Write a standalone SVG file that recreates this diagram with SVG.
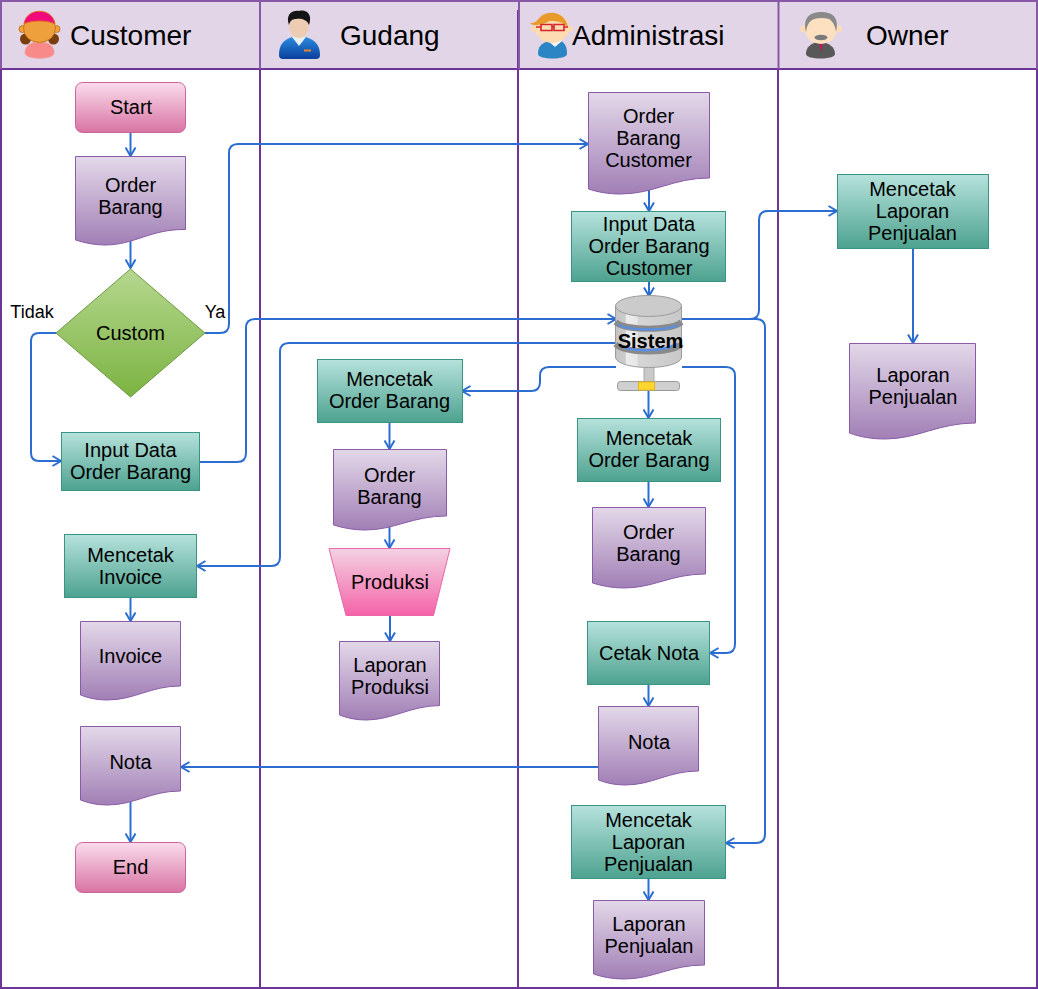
<svg xmlns="http://www.w3.org/2000/svg" width="1038" height="989" viewBox="0 0 1038 989">
<defs>
<linearGradient id="gT" x1="0" y1="0" x2="0" y2="1"><stop offset="0" stop-color="#b6e2dc"/><stop offset="1" stop-color="#4da28f"/></linearGradient>
<linearGradient id="gD" x1="0" y1="0" x2="0" y2="1"><stop offset="0" stop-color="#e3d8e9"/><stop offset="1" stop-color="#a17fb5"/></linearGradient>
<linearGradient id="gP" x1="0" y1="0" x2="0" y2="1"><stop offset="0" stop-color="#fadcec"/><stop offset="1" stop-color="#d873a3"/></linearGradient>
<linearGradient id="gM" x1="0" y1="0" x2="0" y2="1"><stop offset="0" stop-color="#f3d2e2"/><stop offset="1" stop-color="#f563a8"/></linearGradient>
<linearGradient id="gG" x1="0" y1="0" x2="0" y2="1"><stop offset="0" stop-color="#b5d78f"/><stop offset="1" stop-color="#7cb342"/></linearGradient>
<linearGradient id="gC" x1="0" y1="0" x2="1" y2="0"><stop offset="0" stop-color="#c4c4c4"/><stop offset="0.15" stop-color="#cccccc"/><stop offset="0.16" stop-color="#eeeeee"/><stop offset="0.33" stop-color="#e6e6e6"/><stop offset="0.34" stop-color="#d6d6d6"/><stop offset="1" stop-color="#c8c8c8"/></linearGradient>
<linearGradient id="gB" x1="0" y1="0" x2="0" y2="1"><stop offset="0" stop-color="#2a8be0"/><stop offset="1" stop-color="#0a3f9c"/></linearGradient>
<marker id="arr" markerWidth="12" markerHeight="12" refX="9.500" refY="6" orient="auto" markerUnits="userSpaceOnUse"><path d="M1 1 L9.500 6 L1 11" fill="none" stroke="#2b6dd0" stroke-width="2"/></marker>
<style>
.t{font-family:"Liberation Sans",Arial,sans-serif;font-size:20px;fill:#000;text-anchor:middle}
.h{font-family:"Liberation Sans",Arial,sans-serif;font-size:28px;fill:#000}
.teal{fill:url(#gT);stroke:#3a9484;stroke-width:1}
.doc{fill:url(#gD);stroke:#8a5ca8;stroke-width:1}
.pink{fill:url(#gP);stroke:#c9649a;stroke-width:1}
.lane{fill:none;stroke:#6f3497;stroke-width:2}
.laneh{fill:none;stroke:#8658a6;stroke-width:2}
.c{fill:none;stroke:#2b6dd0;stroke-width:2}
.a{marker-end:url(#arr)}
</style>
</defs>
<rect width="1038" height="989" fill="#fff"/>
<g id="lanes">
<rect x="1" y="1" width="1036" height="68" fill="#e1d5e7"/>
<path class="lane" d="M1 69V988H1037V69M1 69H1037M260 69V988M518 10V988M778 69V988"/>
<path class="laneh" d="M1 69V1H1037V69M260 1V69M519 1V69M778.500 1V69"/>
</g>
<g id="icons">
<g id="icon-customer">
<path d="M25 53C25 46 30 42 39.500 42C49 42 54 46 54 53C54 60 25 60 25 53Z" fill="#f98a8a" stroke="#f4a0a0"/>
<circle cx="25.500" cy="39" r="5.500" fill="#7a3e0c"/><circle cx="53.500" cy="39" r="5.500" fill="#7a3e0c"/>
<circle cx="22.500" cy="29" r="3.500" fill="#efa23f" stroke="#c9741a"/><circle cx="56.500" cy="29" r="3.500" fill="#efa23f" stroke="#c9741a"/>
<ellipse cx="39.500" cy="28" rx="16" ry="14.500" fill="#eea03c" stroke="#c9781d"/>
<path d="M24 24C26 7 53 7 55 24C48 20 31 20 24 24Z" fill="#f0087c" stroke="#e07020"/>
</g>
<g id="icon-gudang">
<path d="M279 55C279 44 284 40 292 37L306 37C314 40 320 44 320 55Q320 59 316 59H283Q279 59 279 55Z" fill="url(#gB)"/>
<path d="M292 37L299 46L306 37Z" fill="#e8f0f0"/>
<ellipse cx="299" cy="26" rx="10" ry="12" fill="#eccdb4"/>
<path d="M289 25C285 14 293 10 299 11C306 9 313 14 309 25C307 19 300 18 296 19C292 19 290 21 289 25Z" fill="#141414"/>
<rect x="304" y="49.500" width="7" height="2" fill="#e8842a"/>
</g>
<g id="icon-admin">
<path d="M538 54C538 47 541 43 549 41L561 41C565 43 567 47 567 54C567 60 538 60 538 54Z" fill="#2b85c4"/>
<path d="M548 41L555 47L562 41L558 38H552Z" fill="#f4f4f4"/>
<circle cx="534" cy="29" r="3" fill="#fcd9ae"/><circle cx="570" cy="29" r="3" fill="#fcd9ae"/>
<ellipse cx="552" cy="28" rx="17" ry="15" fill="#fddcb4"/>
<path d="M530 23C538 24 538 16 545 14C555 10 567 16 568 28C564 22 558 21 550 21C545 23 535 28 530 23Z" fill="#e89a2c"/>
<path d="M536 27H541M564 27H568M552 27H554M541 24.500H552V30.500H541ZM554 24.500H564V30.500H554Z" fill="none" stroke="#d5262e" stroke-width="1.600"/>
</g>
<g id="icon-owner">
<path d="M806 54C806 47 811 43 820 41C829 43 835 47 835 54C835 60 806 60 806 54Z" fill="#585858"/>
<path d="M819 43L821 52L823 43Z" fill="#c2185b"/>
<circle cx="803.500" cy="29" r="3.500" fill="#fcdcb8"/><circle cx="838.500" cy="29" r="3.500" fill="#fcdcb8"/>
<ellipse cx="821" cy="29" rx="16" ry="15" fill="#fde0c0"/>
<path d="M806 32C802 16 812 12 821 12C831 12 840 16 836 32C835 24 832 21 829 19C822 17 816 18 812 20C808 23 807 26 806 32Z" fill="#8a8a8a"/>
<ellipse cx="821" cy="37.500" rx="6.500" ry="2.800" fill="#7a7a7a"/>
</g>
</g>
<g id="headers">
<text class="h" x="70" y="44.500">Customer</text>
<text class="h" x="340" y="44.500">Gudang</text>
<text class="h" x="572" y="44.500">Administrasi</text>
<text class="h" x="866" y="44.500">Owner</text>
</g>
<g id="connectors">
<path class="c a" d="M130.500 133V156"/>
<path class="c a" d="M130.500 240V268"/>
<path class="c a" d="M205 333H220Q229 333 229 324V153Q229 144 238 144H588"/>
<path class="c a" d="M56 333H39Q31 333 31 341V453Q31 461 39 461H61"/>
<path class="c a" d="M200 462H237Q246 462 246 453V328Q246 319 255 319H616"/>
<path class="c a" d="M615 343H289Q280 343 280 352V557Q280 566 271 566H197"/>
<path class="c a" d="M649 190V211"/>
<path class="c a" d="M649 282V296"/>
<path class="c a" d="M682 319H750Q759 319 759 310V220Q759 211 768 211H837"/>
<path class="c a" d="M682 319H756Q765 319 765 328V834Q765 843 756 843H726"/>
<path class="c a" d="M616 367H549Q540 367 540 376V382Q540 391 531 391H462"/>
<path class="c a" d="M682 367H726Q735 367 735 376V644Q735 653 726 653H710"/>
<path class="c a" d="M648.500 391V418"/>
<path class="c a" d="M648.500 482V507"/>
<path class="c a" d="M648.500 685V706"/>
<path class="c a" d="M598 767H181"/>
<path class="c a" d="M648.500 879V900"/>
<path class="c a" d="M389.500 423V449"/>
<path class="c a" d="M389.500 527V548"/>
<path class="c a" d="M390 616V641"/>
<path class="c a" d="M130.500 598V621"/>
<path class="c a" d="M130.500 802V842"/>
<path class="c a" d="M913 249V343"/>
</g>
<g id="start"><rect class="pink" x="75.500" y="82.500" width="110" height="50" rx="7"/><text class="t" x="131" y="114">Start</text></g>
<g id="order-barang-1"><path class="doc" d="M75.500 156.500H185.500V229.500C150 229 135 245 105 245C95 245 85 243 75.500 240Z"/><text class="t" x="130.500" y="192">Order</text><text class="t" x="130.500" y="214">Barang</text></g>
<g id="custom"><path d="M130.500 269L205 333L130.500 397L56 333Z" fill="url(#gG)" stroke="#6d9a45"/><text class="t" x="130.500" y="340">Custom</text></g>
<g id="label-tidak"><text class="t" x="32" y="318" style="font-size:18px">Tidak</text></g>
<g id="label-ya"><text class="t" x="215" y="318" style="font-size:18px">Ya</text></g>
<g id="input-data-1"><rect class="teal" x="61.500" y="432.500" width="138" height="58"/><text class="t" x="130.500" y="457">Input Data</text><text class="t" x="130.500" y="479">Order Barang</text></g>
<g id="mencetak-invoice"><rect class="teal" x="64.500" y="534.500" width="132" height="63"/><text class="t" x="130.500" y="562">Mencetak</text><text class="t" x="130.500" y="584">Invoice</text></g>
<g id="invoice"><path class="doc" d="M80.500 621.500H180.500V686C150 686 135 700 107 700C97 700 88 698 80.500 695Z"/><text class="t" x="130.500" y="663">Invoice</text></g>
<g id="nota-1"><path class="doc" d="M80.500 726.500H180.500V791C150 791 135 805 107 805C97 805 88 803 80.500 800Z"/><text class="t" x="130.500" y="769">Nota</text></g>
<g id="end"><rect class="pink" x="75.500" y="842.500" width="110" height="50" rx="7"/><text class="t" x="130.500" y="874">End</text></g>
<g id="mencetak-order-g"><rect class="teal" x="317.500" y="359.500" width="145" height="63"/><text class="t" x="389.500" y="386">Mencetak</text><text class="t" x="389.500" y="408">Order Barang</text></g>
<g id="order-barang-g"><path class="doc" d="M333.500 449.500H446.500V516C412 516 395 530 365 530C354 530 343 528 333.500 525Z"/><text class="t" x="389.500" y="482">Order</text><text class="t" x="389.500" y="504">Barang</text></g>
<g id="produksi"><path d="M329 548.500H450L433.500 615.500H346Z" fill="url(#gM)" stroke="#e868a8"/><text class="t" x="390" y="589">Produksi</text></g>
<g id="laporan-produksi"><path class="doc" d="M339.500 641.500H439.500V705.500C410 706 392 720 366 720C356 720 347 718 339.500 715Z"/><text class="t" x="390" y="672">Laporan</text><text class="t" x="390" y="694">Produksi</text></g>
<g id="order-barang-customer"><path class="doc" d="M588.500 92.500H709.500V178C672 178 655 194 620 194C609 194 597 192 588.500 189Z"/><text class="t" x="648.500" y="123">Order</text><text class="t" x="648.500" y="145">Barang</text><text class="t" x="648.500" y="167">Customer</text></g>
<g id="input-data-2"><rect class="teal" x="571.500" y="211.500" width="154" height="70"/><text class="t" x="649" y="231">Input Data</text><text class="t" x="649" y="253">Order Barang</text><text class="t" x="649" y="275">Customer</text></g>
<g id="sistem">
<rect x="644" y="366" width="10" height="17" fill="#c9c9c9" stroke="#aaa"/>
<rect x="617.500" y="381.500" width="62" height="9" rx="3" fill="#cfcfcf" stroke="#999"/>
<rect x="638.500" y="382" width="16" height="8" fill="#ffd62e" stroke="#e0b820"/>
<path d="M615.500 306V357C615.500 363 630 367.500 648.500 367.500C667 367.500 681.500 363 681.500 357V306Z" fill="url(#gC)" stroke="#9c9c9c"/>
<path d="M615.500 322C625 331 672 331 681.500 322" fill="none" stroke="#8a8a8a" stroke-width="6"/>
<path d="M619 325C630 331 667 331 678 325" fill="none" stroke="#5a8fe0" stroke-width="2.500"/>
<path d="M615.500 344C625 354 672 354 681.500 344" fill="none" stroke="#8a8a8a" stroke-width="6"/>
<path d="M625 348C640 352 662 351 678 344" fill="none" stroke="#5a8fe0" stroke-width="2.500"/>
<ellipse cx="648.500" cy="306" rx="33" ry="10.500" fill="#cbcbcb" stroke="#9c9c9c"/>
<text class="t" x="650.500" y="348" style="font-weight:bold">Sistem</text>
</g>
<g id="mencetak-order-a"><rect class="teal" x="577.500" y="418.500" width="143" height="63"/><text class="t" x="649" y="445">Mencetak</text><text class="t" x="649" y="467">Order Barang</text></g>
<g id="order-barang-a"><path class="doc" d="M592.500 507.500H705.500V574C671 574 654 588 624 588C613 588 602 586 592.500 583Z"/><text class="t" x="648.500" y="539">Order</text><text class="t" x="648.500" y="561">Barang</text></g>
<g id="cetak-nota"><rect class="teal" x="587.500" y="621.500" width="122" height="63"/><text class="t" x="649" y="660">Cetak Nota</text></g>
<g id="nota-2"><path class="doc" d="M598.500 706.500H698.500V771C668 771 653 785 625 785C615 785 606 783 598.500 780Z"/><text class="t" x="649" y="749">Nota</text></g>
<g id="mencetak-laporan-a"><rect class="teal" x="571.500" y="805.500" width="154" height="73"/><text class="t" x="648.500" y="827">Mencetak</text><text class="t" x="648.500" y="849">Laporan</text><text class="t" x="648.500" y="871">Penjualan</text></g>
<g id="laporan-penjualan-a"><path class="doc" d="M593.500 900.500H704.500V965C670 965 654 979 624 979C613 979 602 977 593.500 974Z"/><text class="t" x="649" y="931">Laporan</text><text class="t" x="649" y="953">Penjualan</text></g>
<g id="mencetak-laporan-o"><rect class="teal" x="837.500" y="174.500" width="151" height="74"/><text class="t" x="912.500" y="196">Mencetak</text><text class="t" x="912.500" y="218">Laporan</text><text class="t" x="912.500" y="240">Penjualan</text></g>
<g id="laporan-penjualan-o"><path class="doc" d="M849.500 343.500H975.500V423C938 423 918 439 885 439C872 439 860 437 849.500 433Z"/><text class="t" x="913" y="382">Laporan</text><text class="t" x="913" y="404">Penjualan</text></g>
</svg>
